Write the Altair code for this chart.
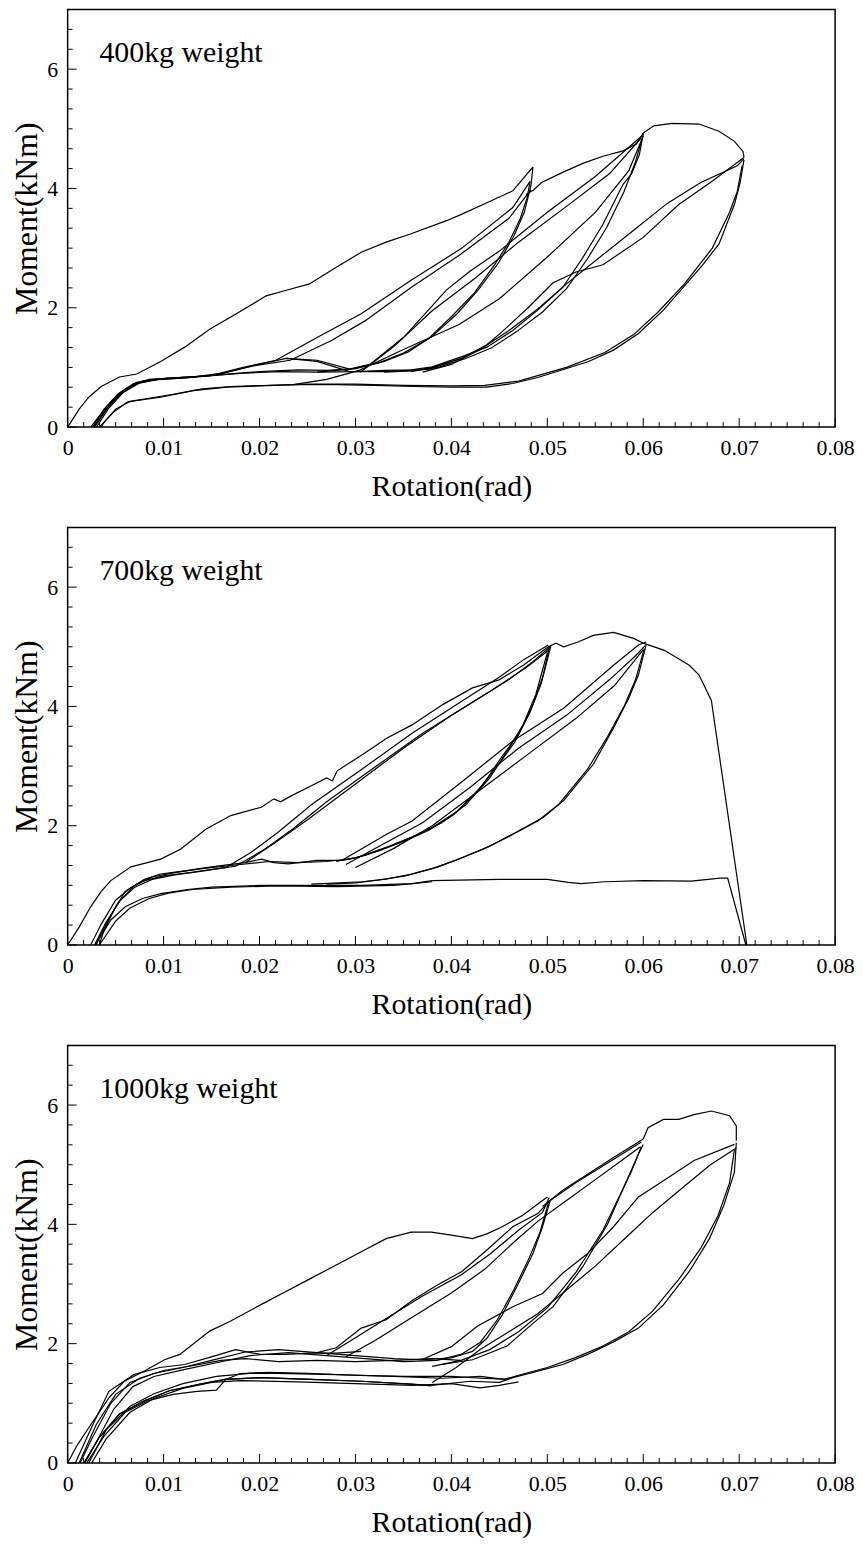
import altair as alt
import pandas as pd

# ---------------- axis ticks / labels ----------------
X_MAJOR = [0, 0.01, 0.02, 0.03, 0.04, 0.05, 0.06, 0.07, 0.08]
X_MINOR = [round(i * 0.01 / 6, 6) for i in range(49)]
Y_MAJOR = [0, 2, 4, 6]
Y_MINOR = [round(i / 3, 6) for i in range(22)]
PANEL_LABELS = ["400kg weight", "700kg weight", "1000kg weight"]

# ---------------- 400 kg ----------------
P400_ENV = [(0, 0), (0.0012, 0.3), (0.0022, 0.5), (0.0035, 0.68), (0.0054, 0.84), (0.0072, 0.89), (0.0097, 1.1),
            (0.0122, 1.34), (0.0148, 1.64), (0.0175, 1.89), (0.0207, 2.2), (0.0227, 2.29), (0.0252, 2.4),
            (0.028, 2.68), (0.0306, 2.93), (0.0332, 3.1), (0.0358, 3.24), (0.0395, 3.46), (0.0411, 3.57),
            (0.0437, 3.76), (0.0464, 3.96), (0.0485, 4.36)]
P400_ENV2 = [(0.0478, 3.9), (0.0486, 3.98), (0.0494, 4.1), (0.0516, 4.27), (0.0537, 4.42), (0.0558, 4.54),
             (0.0579, 4.63), (0.0593, 4.75), (0.06, 4.93)]
P400_ENV3 = [(0.06, 4.93), (0.0611, 5.05), (0.063, 5.09), (0.0658, 5.08), (0.0679, 4.96), (0.0695, 4.79),
             (0.0704, 4.62), (0.0705, 4.52)]
P400_UNL1A = [(0.0485, 4.36), (0.0483, 4.05), (0.0476, 3.6), (0.0465, 3.2), (0.0449, 2.75), (0.0428, 2.3),
              (0.0406, 1.9), (0.038, 1.52), (0.0355, 1.26), (0.033, 1.1), (0.030, 0.98), (0.027, 0.95),
              (0.024, 0.96), (0.02, 0.93), (0.016, 0.88), (0.013, 0.84), (0.0095, 0.81), (0.0072, 0.75),
              (0.0055, 0.58), (0.004, 0.33), (0.0024, 0)]
P400_UNL1B = [(0.0482, 4.12), (0.0479, 3.85), (0.0472, 3.5), (0.046, 3.1), (0.0445, 2.72), (0.0424, 2.25),
              (0.04, 1.85), (0.0376, 1.48), (0.035, 1.24), (0.0325, 1.08), (0.0295, 0.97), (0.026, 0.92),
              (0.022, 0.93), (0.018, 0.9), (0.014, 0.85), (0.0105, 0.82), (0.0078, 0.77), (0.006, 0.64),
              (0.0045, 0.4), (0.0028, 0)]
P400_REL1A = [(0.0026, 0), (0.0038, 0.3), (0.0052, 0.55), (0.0068, 0.72), (0.0085, 0.8), (0.0115, 0.83),
              (0.0148, 0.86), (0.0183, 1.0), (0.0217, 1.12), (0.026, 1.5), (0.0306, 1.9), (0.0358, 2.46),
              (0.0411, 3.0), (0.0464, 3.68), (0.0482, 4.12)]
P400_REL1B = [(0.003, 0), (0.0043, 0.32), (0.0058, 0.58), (0.0075, 0.74), (0.0095, 0.8), (0.0125, 0.83),
              (0.016, 0.9), (0.0195, 1.03), (0.0232, 1.12), (0.0275, 1.45), (0.031, 1.78), (0.0358, 2.34),
              (0.041, 2.9), (0.046, 3.5), (0.0483, 3.98)]
P400_REL2A = [(0.0027, 0), (0.004, 0.3), (0.0055, 0.55), (0.007, 0.72), (0.009, 0.79), (0.012, 0.82),
              (0.0155, 0.87), (0.019, 1.02), (0.0228, 1.15), (0.026, 1.12), (0.0294, 0.97), (0.0315, 1.05),
              (0.035, 1.5), (0.0395, 2.3), (0.042, 2.62), (0.045, 2.95), (0.05, 3.6), (0.055, 4.2), (0.06, 4.9)]
P400_REL2B = [(0.0305, 0.92), (0.034, 1.35), (0.038, 1.95), (0.0425, 2.5), (0.047, 3.1), (0.052, 3.7),
              (0.0565, 4.25), (0.0598, 4.85)]
P400_REL2C = [(0.0235, 0.71), (0.027, 0.8), (0.0304, 0.95), (0.035, 1.3), (0.0408, 1.72), (0.045, 2.15),
              (0.05, 2.85), (0.055, 3.6), (0.0585, 4.3), (0.06, 4.88)]
P400_UNL2A = [(0.06, 4.92), (0.0596, 4.57), (0.0588, 4.25), (0.0579, 4.07), (0.0558, 3.4), (0.0537, 2.84),
              (0.0516, 2.34), (0.049, 1.96), (0.0464, 1.62), (0.0437, 1.34), (0.0411, 1.18), (0.038, 1.01),
              (0.0358, 0.96), (0.033, 0.95), (0.03, 0.93), (0.026, 0.92)]
P400_UNL2B = [(0.0599, 4.85), (0.0592, 4.45), (0.058, 3.95), (0.0562, 3.35), (0.0541, 2.8), (0.052, 2.32),
              (0.0495, 1.93), (0.0468, 1.6), (0.0442, 1.33), (0.0415, 1.15), (0.0386, 1.0), (0.036, 0.94),
              (0.033, 0.92)]
P400_UP = [(0.0228, 1.15), (0.026, 1.1), (0.0294, 0.93), (0.033, 0.93), (0.036, 0.955), (0.0377, 0.97),
           (0.041, 1.15)]
P400_REL3A = [(0.0358, 0.93), (0.038, 1.0), (0.041, 1.15), (0.0437, 1.38), (0.0453, 1.6), (0.048, 2.0),
              (0.0506, 2.42), (0.053, 2.6), (0.0558, 2.72), (0.06, 3.18), (0.0637, 3.73), (0.067, 4.1),
              (0.0705, 4.52)]
P400_REL3B = [(0.037, 0.92), (0.04, 1.05), (0.043, 1.3), (0.046, 1.62), (0.049, 1.98), (0.052, 2.4),
              (0.0555, 2.85), (0.059, 3.3), (0.0625, 3.75), (0.066, 4.1), (0.0698, 4.38), (0.0705, 4.5)]
P400_UNL3A = [(0.0705, 4.48), (0.0701, 4.1), (0.0695, 3.73), (0.0679, 3.07), (0.0662, 2.72), (0.0648, 2.46),
              (0.0621, 1.96), (0.0595, 1.57), (0.0569, 1.29), (0.0543, 1.1), (0.0516, 0.96), (0.049, 0.83),
              (0.0464, 0.73), (0.0437, 0.67), (0.04, 0.67), (0.036, 0.68), (0.032, 0.7), (0.028, 0.71),
              (0.024, 0.71), (0.02, 0.69), (0.0166, 0.67), (0.0131, 0.61), (0.0097, 0.5), (0.0075, 0.45),
              (0.0062, 0.42), (0.0048, 0.25), (0.0036, 0.05), (0.0033, 0)]
P400_UNL3B = [(0.0703, 4.38), (0.0698, 3.95), (0.069, 3.6), (0.0672, 3.0), (0.0643, 2.4), (0.0615, 1.92),
              (0.059, 1.55), (0.056, 1.25), (0.052, 1.0), (0.047, 0.77), (0.0435, 0.7), (0.04, 0.69),
              (0.035, 0.7), (0.03, 0.72), (0.025, 0.72), (0.021, 0.7), (0.017, 0.68), (0.014, 0.64),
              (0.011, 0.55), (0.008, 0.47), (0.0065, 0.43), (0.005, 0.3), (0.0038, 0.08), (0.0035, 0)]

# ---------------- 700 kg ----------------
P700_ENV = [(0, 0), (0.0012, 0.3), (0.0024, 0.64), (0.0035, 0.9), (0.0045, 1.08), (0.0066, 1.31),
            (0.0097, 1.44), (0.0118, 1.61), (0.0144, 1.94), (0.017, 2.17), (0.0202, 2.31), (0.0215, 2.45),
            (0.0222, 2.4), (0.0233, 2.5), (0.0254, 2.67), (0.027, 2.8), (0.0276, 2.75), (0.0281, 2.92),
            (0.0307, 3.19), (0.0333, 3.47), (0.0359, 3.69), (0.0391, 4.03), (0.0422, 4.31), (0.0449, 4.44),
            (0.0475, 4.69), (0.0501, 5.0), (0.0509, 5.06), (0.0517, 5.0), (0.0532, 5.08), (0.0548, 5.19),
            (0.0569, 5.24), (0.059, 5.14), (0.06, 5.06), (0.0622, 4.94), (0.0648, 4.69), (0.0658, 4.53),
            (0.0671, 4.1), (0.0708, 0)]
P700_HORIZ = [(0.038, 1.08), (0.045, 1.1), (0.05, 1.1), (0.0522, 1.05), (0.0535, 1.03), (0.056, 1.06),
              (0.06, 1.08), (0.065, 1.07), (0.068, 1.12), (0.0688, 1.12), (0.0707, 0)]
P700_LOW1 = [(0.0029, 0), (0.0045, 0.42), (0.006, 0.64), (0.0078, 0.78), (0.0097, 0.86), (0.0125, 0.93),
             (0.015, 0.97), (0.0202, 1.0), (0.0254, 1.0), (0.0307, 1.0), (0.0359, 1.03), (0.038, 1.08)]
P700_LOW2 = [(0.0033, 0), (0.005, 0.4), (0.0065, 0.62), (0.0085, 0.78), (0.0105, 0.87), (0.013, 0.93),
             (0.017, 0.97), (0.022, 0.99), (0.028, 0.98), (0.034, 1.0), (0.038, 1.06)]
P700_REL1A = [(0.0024, 0), (0.0035, 0.35), (0.005, 0.75), (0.0065, 0.95), (0.008, 1.08), (0.01, 1.16),
              (0.013, 1.22), (0.0165, 1.3), (0.0191, 1.55), (0.022, 1.9), (0.0254, 2.35), (0.0307, 2.95),
              (0.0359, 3.55), (0.0412, 4.1), (0.0449, 4.48), (0.0475, 4.78), (0.0501, 5.03)]
P700_REL1B = [(0.0028, 0), (0.004, 0.38), (0.0055, 0.75), (0.007, 0.97), (0.0088, 1.1), (0.011, 1.17),
              (0.014, 1.24), (0.0175, 1.32), (0.0205, 1.6), (0.0235, 1.95), (0.027, 2.4), (0.032, 2.98),
              (0.037, 3.55), (0.042, 4.05), (0.046, 4.45), (0.0485, 4.75), (0.0503, 5.0)]
P700_REL1C = [(0.0185, 1.38), (0.0215, 1.7), (0.025, 2.1), (0.03, 2.7), (0.035, 3.3), (0.04, 3.85),
              (0.0445, 4.3), (0.0478, 4.65), (0.0502, 4.95)]
P700_UNL1A = [(0.0504, 5.03), (0.0496, 4.53), (0.0485, 4.03), (0.047, 3.53), (0.0454, 3.19), (0.0433, 2.69),
              (0.0407, 2.25), (0.038, 1.97), (0.0359, 1.81), (0.0333, 1.64), (0.0302, 1.47), (0.0286, 1.42),
              (0.026, 1.42), (0.023, 1.36), (0.0215, 1.38), (0.0202, 1.44), (0.0185, 1.38), (0.015, 1.31),
              (0.012, 1.24), (0.0097, 1.19), (0.008, 1.1), (0.006, 0.9), (0.0045, 0.5), (0.0032, 0.1),
              (0.003, 0)]
P700_UNL1B = [(0.0502, 4.98), (0.0494, 4.4), (0.0482, 3.9), (0.0466, 3.4), (0.0448, 3.0), (0.0428, 2.6),
              (0.0402, 2.18), (0.0376, 1.92), (0.0352, 1.75), (0.0325, 1.58), (0.0298, 1.45), (0.027, 1.4),
              (0.024, 1.38), (0.021, 1.4), (0.018, 1.35), (0.014, 1.28), (0.011, 1.21), (0.0088, 1.14),
              (0.007, 1.0), (0.0052, 0.7), (0.0038, 0.25), (0.0033, 0)]
P700_UNL1C = [(0.05, 4.9), (0.0488, 4.2), (0.0475, 3.7), (0.046, 3.3), (0.044, 2.8), (0.0415, 2.35),
              (0.039, 2.05), (0.0365, 1.85), (0.034, 1.68), (0.031, 1.5), (0.028, 1.4)]
P700_REL2A = [(0.0286, 1.42), (0.0333, 1.86), (0.0359, 2.08), (0.0412, 2.75), (0.0464, 3.42), (0.0517, 3.97),
              (0.0569, 4.69), (0.0595, 5.03), (0.0603, 5.08)]
P700_REL2B = [(0.029, 1.35), (0.033, 1.7), (0.037, 2.05), (0.042, 2.65), (0.047, 3.3), (0.052, 3.85),
              (0.0565, 4.45), (0.0592, 4.85), (0.0602, 5.02)]
P700_REL2C = [(0.03, 1.3), (0.034, 1.62), (0.038, 2.0), (0.043, 2.6), (0.048, 3.2), (0.053, 3.8),
              (0.057, 4.35), (0.06, 4.95)]
P700_UNL2A = [(0.0603, 5.03), (0.0595, 4.53), (0.0585, 4.14), (0.0569, 3.64), (0.0548, 3.03), (0.0517, 2.42),
              (0.0496, 2.14), (0.0464, 1.86), (0.0438, 1.64), (0.0412, 1.47), (0.0386, 1.31), (0.0359, 1.19),
              (0.0333, 1.11), (0.0307, 1.06), (0.0254, 1.02)]
P700_UNL2B = [(0.0601, 4.97), (0.0592, 4.45), (0.058, 4.0), (0.0563, 3.5), (0.0542, 2.95), (0.0512, 2.36),
              (0.049, 2.08), (0.046, 1.82), (0.0432, 1.6), (0.0405, 1.42), (0.038, 1.28), (0.0352, 1.16),
              (0.0325, 1.09), (0.03, 1.04), (0.027, 1.02)]

# ---------------- 1000 kg ----------------
P1000_ENV = [(0, 0), (0.001, 0.3), (0.0022, 0.59), (0.0043, 1.09), (0.0059, 1.37), (0.008, 1.54),
             (0.0101, 1.73), (0.0117, 1.82), (0.0148, 2.21), (0.0169, 2.37), (0.0201, 2.65), (0.0227, 2.87),
             (0.0253, 3.09), (0.028, 3.32), (0.0306, 3.54), (0.0332, 3.76), (0.0358, 3.87), (0.0379, 3.87),
             (0.04, 3.82), (0.0422, 3.76), (0.0437, 3.84), (0.0453, 3.96), (0.0474, 4.15), (0.05, 4.46)]
P1000_ENV2 = [(0.0495, 4.3), (0.0516, 4.57), (0.0542, 4.84), (0.0569, 5.12), (0.06, 5.43)]
P1000_ENV3 = [(0.06, 5.43), (0.0605, 5.62), (0.0621, 5.76), (0.0637, 5.76), (0.0653, 5.84), (0.0671, 5.9),
              (0.069, 5.82), (0.0697, 5.65), (0.0697, 5.4)]
P1000_UNL3A = [(0.0697, 5.37), (0.0695, 4.87), (0.0684, 4.32), (0.0669, 3.76), (0.0648, 3.21), (0.0621, 2.65),
               (0.0595, 2.26), (0.0569, 2.03), (0.0542, 1.82), (0.0516, 1.65), (0.049, 1.54), (0.0464, 1.43),
               (0.045, 1.35), (0.042, 1.37), (0.0379, 1.3), (0.0358, 1.32), (0.0306, 1.37), (0.0253, 1.4),
               (0.0201, 1.43), (0.0164, 1.4), (0.0138, 1.32), (0.0106, 1.21), (0.008, 1.04), (0.0054, 0.82),
               (0.0033, 0.43), (0.0017, 0)]
P1000_UNL3B = [(0.0695, 5.25), (0.069, 4.7), (0.0678, 4.15), (0.066, 3.6), (0.0638, 3.1), (0.061, 2.55),
               (0.0585, 2.2), (0.0558, 1.96), (0.053, 1.77), (0.05, 1.6), (0.047, 1.47), (0.0455, 1.4),
               (0.043, 1.45), (0.039, 1.42), (0.034, 1.45), (0.028, 1.48), (0.022, 1.5), (0.019, 1.5),
               (0.0155, 1.45), (0.012, 1.33), (0.009, 1.16), (0.0065, 0.95), (0.004, 0.55), (0.0022, 0)]
P1000_UP1 = [(0.0008, 0), (0.0025, 0.6), (0.0043, 1.2), (0.0069, 1.48), (0.0096, 1.6), (0.0122, 1.65),
             (0.0148, 1.77), (0.0175, 1.9), (0.0201, 1.82), (0.0227, 1.82), (0.0253, 1.84), (0.028, 1.84),
             (0.0306, 1.87)]
P1000_UP2 = [(0.0012, 0), (0.003, 0.65), (0.005, 1.15), (0.0075, 1.42), (0.01, 1.55), (0.013, 1.63),
             (0.016, 1.72), (0.0185, 1.75), (0.022, 1.7), (0.026, 1.72), (0.03, 1.7), (0.034, 1.72),
             (0.038, 1.75), (0.041, 1.72)]
P1000_REL1A = [(0.026, 1.85), (0.028, 1.93), (0.0306, 2.26), (0.0332, 2.4), (0.0358, 2.71), (0.0385, 2.98),
               (0.0411, 3.21), (0.0437, 3.57), (0.0464, 3.96), (0.049, 4.18), (0.0503, 4.4), (0.053, 4.7),
               (0.056, 5.0), (0.0598, 5.38)]
P1000_REL1B = [(0.027, 1.8), (0.03, 2.1), (0.0335, 2.45), (0.037, 2.8), (0.041, 3.15), (0.044, 3.5),
               (0.047, 3.9), (0.0495, 4.2), (0.0502, 4.45)]
P1000_REL1C = [(0.029, 1.78), (0.032, 2.05), (0.036, 2.45), (0.04, 2.85), (0.0435, 3.25), (0.0465, 3.7),
               (0.049, 4.05), (0.052, 4.4), (0.055, 4.75), (0.058, 5.1), (0.0597, 5.3)]
P1000_UNL1A = [(0.0503, 4.4), (0.0495, 3.96), (0.0485, 3.51), (0.0469, 2.98), (0.0453, 2.48), (0.0437, 2.09),
               (0.0422, 1.87), (0.04, 1.76), (0.0369, 1.73), (0.034, 1.75), (0.03, 1.8), (0.026, 1.85),
               (0.022, 1.9), (0.0185, 1.86), (0.015, 1.72), (0.012, 1.6), (0.009, 1.5), (0.0065, 1.35),
               (0.0045, 1.0), (0.0025, 0.4), (0.0013, 0)]
P1000_UNL1B = [(0.0501, 4.35), (0.0492, 3.85), (0.048, 3.4), (0.0465, 2.9), (0.0448, 2.4), (0.043, 2.02),
               (0.041, 1.82), (0.0385, 1.72), (0.035, 1.7), (0.031, 1.75), (0.027, 1.8), (0.023, 1.85),
               (0.019, 1.8), (0.0155, 1.68), (0.012, 1.56), (0.009, 1.45), (0.0068, 1.28), (0.0048, 0.9),
               (0.003, 0.35), (0.0018, 0)]
P1000_UNL2A = [(0.06, 5.34), (0.0595, 5.18), (0.0563, 4.01), (0.0537, 3.29), (0.0506, 2.62), (0.0485, 2.34),
               (0.0458, 1.96), (0.0422, 1.73), (0.039, 1.65)]
P1000_UNL2B = [(0.0598, 5.3), (0.0588, 4.9), (0.0558, 3.9), (0.053, 3.2), (0.05, 2.6), (0.047, 2.2),
               (0.044, 1.9), (0.041, 1.72), (0.038, 1.62)]
P1000_REL3A = [(0.0369, 1.73), (0.04, 1.95), (0.0427, 2.29), (0.0464, 2.62), (0.0495, 2.84), (0.0516, 3.18),
               (0.0542, 3.51), (0.0569, 3.96), (0.0595, 4.46), (0.0621, 4.73), (0.0653, 5.07), (0.0695, 5.34)]
P1000_REL3B = [(0.038, 1.35), (0.0405, 1.6), (0.043, 1.9), (0.046, 2.2), (0.049, 2.5), (0.052, 2.9),
               (0.055, 3.3), (0.058, 3.75), (0.061, 4.2), (0.064, 4.6), (0.067, 5.0), (0.0697, 5.28)]
P1000_LOW1 = [(0.0017, 0), (0.0033, 0.43), (0.0054, 0.82), (0.008, 1.04), (0.0106, 1.21), (0.0138, 1.32),
              (0.0164, 1.4), (0.0201, 1.43), (0.0253, 1.4), (0.0306, 1.37), (0.0358, 1.32), (0.0379, 1.29)]
P1000_LOW2 = [(0.002, 0), (0.0038, 0.45), (0.006, 0.85), (0.0085, 1.05), (0.011, 1.15), (0.0135, 1.2),
              (0.0155, 1.22), (0.0165, 1.4), (0.018, 1.5), (0.021, 1.52), (0.025, 1.5), (0.03, 1.47),
              (0.035, 1.45), (0.04, 1.45), (0.043, 1.42), (0.046, 1.4)]
P1000_LOW3 = [(0.0025, 0), (0.004, 0.4), (0.0065, 0.85), (0.009, 1.08), (0.012, 1.25), (0.015, 1.35),
              (0.018, 1.38), (0.024, 1.36), (0.03, 1.33), (0.036, 1.3), (0.04, 1.33), (0.043, 1.26),
              (0.045, 1.3), (0.047, 1.36)]

PANELS = [
    {"ENV": P400_ENV, "ENV2": P400_ENV2, "ENV3": P400_ENV3, "UNL1A": P400_UNL1A, "UNL1B": P400_UNL1B,
     "REL1A": P400_REL1A, "REL1B": P400_REL1B, "REL2A": P400_REL2A, "REL2B": P400_REL2B, "REL2C": P400_REL2C,
     "UNL2A": P400_UNL2A, "UNL2B": P400_UNL2B, "UP": P400_UP, "REL3A": P400_REL3A, "REL3B": P400_REL3B,
     "UNL3A": P400_UNL3A, "UNL3B": P400_UNL3B},
    {"ENV": P700_ENV, "HORIZ": P700_HORIZ, "LOW1": P700_LOW1, "LOW2": P700_LOW2, "REL1A": P700_REL1A,
     "REL1B": P700_REL1B, "REL1C": P700_REL1C, "UNL1A": P700_UNL1A, "UNL1B": P700_UNL1B, "UNL1C": P700_UNL1C,
     "REL2A": P700_REL2A, "REL2B": P700_REL2B, "REL2C": P700_REL2C, "UNL2A": P700_UNL2A, "UNL2B": P700_UNL2B},
    {"ENV": P1000_ENV, "ENV2": P1000_ENV2, "ENV3": P1000_ENV3, "UNL3A": P1000_UNL3A, "UNL3B": P1000_UNL3B,
     "UP1": P1000_UP1, "UP2": P1000_UP2, "REL1A": P1000_REL1A, "REL1B": P1000_REL1B, "REL1C": P1000_REL1C,
     "UNL1A": P1000_UNL1A, "UNL1B": P1000_UNL1B, "UNL2A": P1000_UNL2A, "UNL2B": P1000_UNL2B,
     "REL3A": P1000_REL3A, "REL3B": P1000_REL3B, "LOW1": P1000_LOW1, "LOW2": P1000_LOW2, "LOW3": P1000_LOW3},
]

W, H = 772, 420
FONT = "Liberation Serif"

x_scale = alt.Scale(domain=[0, 0.08], nice=False, zero=False)
y_scale = alt.Scale(domain=[0, 7], nice=False, zero=False)

x_axis = alt.Axis(values=X_MAJOR, ticks=False, domain=False, grid=False, labelFlush=False,
                  labelExpr="datum.value == 0 ? '0' : format(datum.value, '.2f')",
                  labelFont=FONT, labelFontSize=22, labelColor="black", labelPadding=11,
                  title="Rotation(rad)", titleFont=FONT, titleFontSize=30, titleFontWeight="normal",
                  titleColor="black", titlePadding=13)
y_axis = alt.Axis(values=Y_MAJOR, ticks=False, domain=False, grid=False, labelFlush=False,
                  labelFont=FONT, labelFontSize=22, labelColor="black", labelPadding=10,
                  title="Moment(kNm)", titleFont=FONT, titleFontSize=32, titleFontWeight="normal",
                  titleColor="black", titlePadding=3)

X = alt.X("rot:Q", scale=x_scale, axis=x_axis)
Y = alt.Y("mom:Q", scale=y_scale, axis=y_axis)

xt_major = pd.DataFrame({"rot": [v for v in X_MINOR if any(abs(v - m) < 1e-9 for m in X_MAJOR)]})
xt_minor = pd.DataFrame({"rot": [v for v in X_MINOR if not any(abs(v - m) < 1e-9 for m in X_MAJOR)]})
yt_major = pd.DataFrame({"mom": [v for v in Y_MINOR if any(abs(v - m) < 1e-9 for m in Y_MAJOR)]})
yt_minor = pd.DataFrame({"mom": [v for v in Y_MINOR if not any(abs(v - m) < 1e-9 for m in Y_MAJOR)]})


def panel(segs, label):
    rows = []
    for name, pts in segs.items():
        for i, (x, y) in enumerate(pts):
            rows.append({"seg": name, "i": i, "rot": x, "mom": y})
    df = pd.DataFrame(rows)
    lines = alt.Chart(df).mark_line(color="black", strokeWidth=1.2).encode(
        x=X, y=Y, detail="seg:N", order="i:Q")
    txm = alt.Chart(xt_major).mark_rule(color="black", strokeWidth=1).encode(
        x=X, y=alt.value(H), y2=alt.value(H - 9))
    txn = alt.Chart(xt_minor).mark_rule(color="black", strokeWidth=1).encode(
        x=X, y=alt.value(H), y2=alt.value(H - 5))
    tym = alt.Chart(yt_major).mark_rule(color="black", strokeWidth=1).encode(
        y=Y, x=alt.value(0), x2=alt.value(9))
    tyn = alt.Chart(yt_minor).mark_rule(color="black", strokeWidth=1).encode(
        y=Y, x=alt.value(0), x2=alt.value(5))
    txt = alt.Chart(pd.DataFrame({"label": [label]})).mark_text(
        align="left", baseline="alphabetic", font=FONT, fontSize=30, color="black").encode(
        x=alt.value(32), y=alt.value(53), text="label:N")
    return alt.layer(lines, txm, txn, tym, tyn, txt).properties(width=W, height=H)


chart = alt.vconcat(*[panel(s, l) for s, l in zip(PANELS, PANEL_LABELS)], spacing=101, bounds="flush")
chart = chart.properties(padding={"left": 2, "top": -5, "right": 0, "bottom": 0}).configure_view(
    stroke="black", strokeWidth=1.5)

chart.save("out.html", embed_options={"renderer": "svg", "actions": False})
